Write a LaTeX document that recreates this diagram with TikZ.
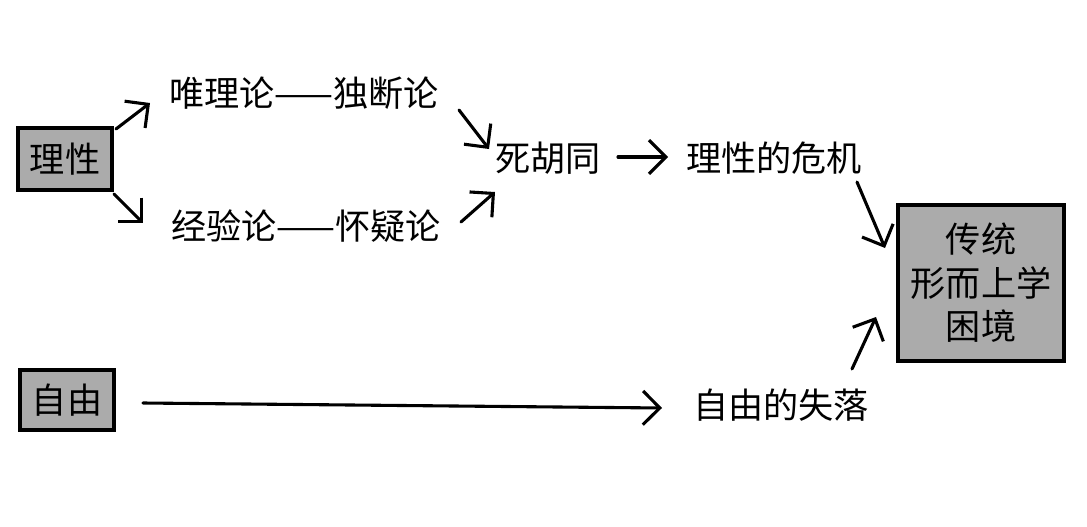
\documentclass[tikz,border=0pt]{standalone}
\usepackage{fontspec}
\setmainfont{Noto Sans CJK SC}
\usetikzlibrary{arrows.meta, positioning}

\begin{document}
\begin{tikzpicture}[x=0.025cm, y=-0.025cm,
	every node/.style={font=\fontsize{25}{31}\selectfont, inner sep=2pt},
	keybox/.style={
		draw,
		line width=2.5pt,
		fill=black!33,
		align=center,
		inner sep=0pt
	},
	arr/.style={-{Straight Barb[length=12pt, width=24pt, line width=2.2pt]}, line width=2.2pt, line cap=round}
	]
	\useasboundingbox (0,0) rectangle (1087,527);

	% Boxes
	\node[keybox, minimum width=2.35cm, minimum height=1.55cm] (lixing) at (65,159) {理性};
	\node[keybox, minimum width=2.35cm, minimum height=1.5cm] (ziyou) at (67,400) {自由};
	\node[keybox, minimum width=4.15cm, minimum height=3.9cm] (kunjing) at (981,283) {传统\\形而上学\\困境};

	% Text nodes
	\node (weili) at (304,93) {唯理论——独断论};
	\node (jingyan) at (306,226) {经验论——怀疑论};
	\node (sihutong) at (548,158) {死胡同};
	\node (weiji) at (774,158) {理性的危机};
	\node (shiluo) at (781,405) {自由的失落};

	% Arrow ends
	\coordinate (a1s) at (116,129); \coordinate (a1e) at (150,103);
	\coordinate (a2s) at (114,194); \coordinate (a2e) at (143,223);
	\coordinate (a3s) at (459,110); \coordinate (a3e) at (489,149);
	\coordinate (a4s) at (461,222); \coordinate (a4e) at (495,192);
	\coordinate (a5s) at (618,157); \coordinate (a5e) at (668,157);
	\coordinate (a6s) at (857,182); \coordinate (a6e) at (885,248);
	\coordinate (a7s) at (852,369); \coordinate (a7e) at (876,317);
	\coordinate (a8s) at (143,403); \coordinate (a8e) at (662,408);

	\draw[arr] (a1s) -- (a1e);
	\draw[arr] (a2s) -- (a2e);
	\draw[arr] (a3s) -- (a3e);
	\draw[arr] (a4s) -- (a4e);
	\draw[arr] (a5s) -- (a5e);
	\draw[arr] (a6s) -- (a6e);
	\draw[arr] (a7s) -- (a7e);
	\draw[arr] (a8s) -- (a8e);

\end{tikzpicture}
\end{document}
